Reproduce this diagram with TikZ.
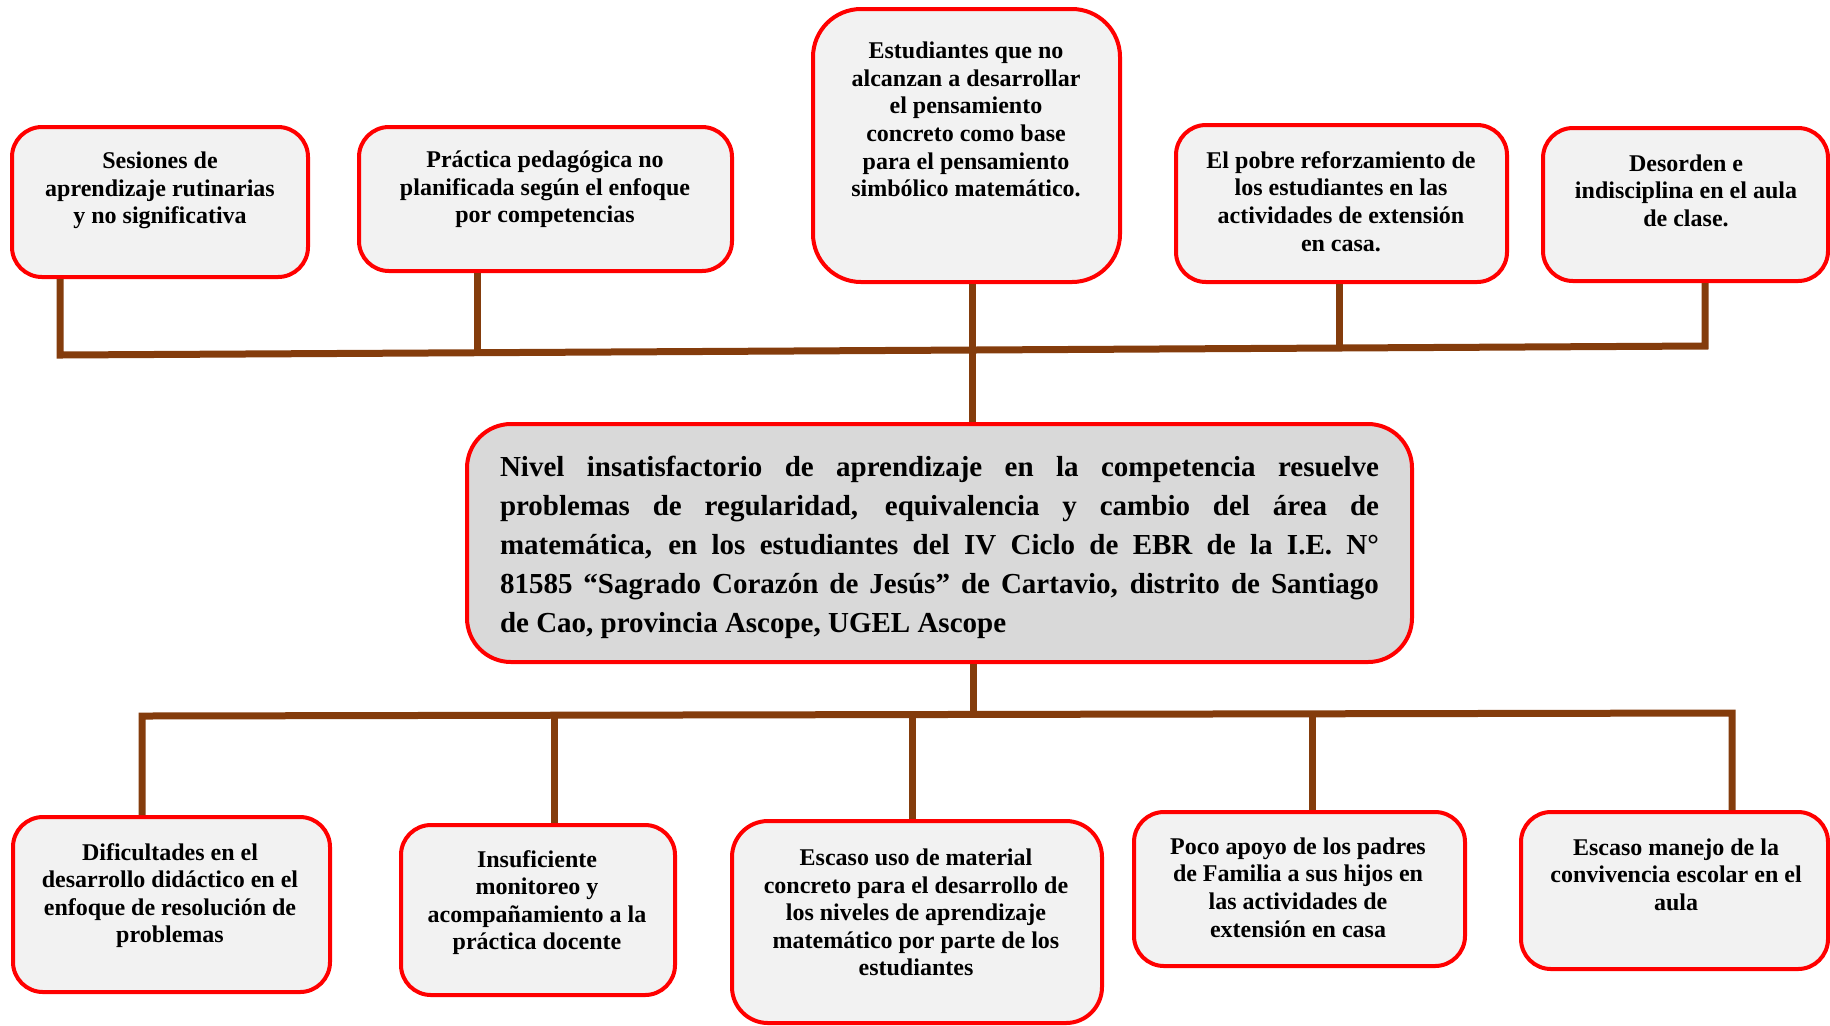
\documentclass[tikz,border=0pt]{standalone}
\usepackage{fontspec}
\setmainfont{Liberation Serif}
\definecolor{busc}{RGB}{132,60,12}
\definecolor{boxfill}{RGB}{242,242,242}
\definecolor{mainfill}{RGB}{217,217,217}
\begin{document}
\begin{tikzpicture}[x=0.5pt,y=-0.5pt,
  box/.style={draw=red, line width=2pt, fill=boxfill, rounded corners=15pt, inner sep=0pt},
  txt/.style={align=center, font=\fontsize{12}{13.8}\selectfont\bfseries, inner sep=0pt},
  bus/.style={draw=busc, line width=3.5pt}]
\useasboundingbox (0,0) rectangle (1830,1025);

% top boxes
\node[box, minimum width=148pt, minimum height=75pt] (b1) at (160,202) {};
\node[box, minimum width=186.5pt, minimum height=72pt] (b2) at (545.5,199) {};
\node[box, rounded corners=24pt, minimum width=153.5pt, minimum height=136.5pt] (b3) at (966.5,145.5) {};
\node[box, minimum width=165.5pt, minimum height=78.5pt] (b4) at (1341.5,203.5) {};
\node[box, minimum width=142.5pt, minimum height=76.5pt] (b5) at (1685.5,204.5) {};

\node[txt] (t1) at (160,190.5) {Sesiones de\\aprendizaje rutinarias\\y no significativa};
\node[txt] (t2) at (545,189.5) {Práctica pedagógica no\\planificada según el enfoque\\por competencias};
\node[txt] (t3) at (966,119.5) {Estudiantes que no\\alcanzan a desarrollar\\el pensamiento\\concreto como base\\para el pensamiento\\simbólico matemático.};
\node[txt] (t4) at (1341,201.5) {El pobre reforzamiento de\\los estudiantes en las\\actividades de extensión\\en casa.};
\node[txt] (t5) at (1686,190.5) {Desorden e\\indisciplina en el aula\\de clase.};

% central box
\node[box, fill=mainfill, rounded corners=22pt, minimum width=472.5pt, minimum height=119pt] (m) at (939.5,543) {};
\node[inner sep=0pt, text width=439.5pt, align=justify, font=\fontsize{14.5}{19.5}\selectfont\bfseries] (tm) at (939.5,547)
{Nivel insatisfactorio de aprendizaje en la competencia resuelve\linebreak
problemas de regularidad, equivalencia y cambio del área de\linebreak
matemática, en los estudiantes del IV Ciclo de EBR de la I.E. N°\linebreak
81585 “Sagrado Corazón de Jesús” de Cartavio, distrito de Santiago\linebreak
de Cao, provincia Ascope, UGEL Ascope};

% bottom boxes
\node[box, minimum width=158.5pt, minimum height=87.5pt] (d1) at (171.5,904.5) {};
\node[box, minimum width=137pt, minimum height=85pt] (d2) at (538,910) {};
\node[box, rounded corners=18pt, minimum width=185pt, minimum height=101pt] (d3) at (917,922) {};
\node[box, minimum width=165.5pt, minimum height=77pt] (d4) at (1299.5,889) {};
\node[box, minimum width=153.5pt, minimum height=78.5pt] (d5) at (1674.5,890.5) {};

\node[txt] (s1) at (170,895.5) {Dificultades en el\\desarrollo didáctico en el\\enfoque de resolución de\\problemas};
\node[txt] (s2) at (537,902.5) {Insuficiente\\monitoreo y\\acompañamiento a la\\práctica docente};
\node[txt] (s3) at (916,912.5) {Escaso uso de material\\concreto para el desarrollo de\\los niveles de aprendizaje\\matemático por parte de los\\estudiantes};
\node[txt] (s4) at (1298,887.5) {Poco apoyo de los padres\\de Familia a sus hijos en\\las actividades de\\extensión en casa};
\node[txt] (s5) at (1676,874.5) {Escaso manejo de la\\convivencia escolar en el\\aula};

% top bus
\coordinate (tl) at (60,355);
\coordinate (tr) at (1705,346);
\coordinate (j2) at (477,352.7);
\coordinate (j3) at (972,350);
\coordinate (j4) at (1339,348);
\draw[bus] (b1.south -| tl) -- (tl) -- (tr) -- (b5.south -| tr);
\draw[bus] (b2.south -| j2) -- (j2);
\draw[bus] (b3.south -| j3) -- (m.north -| j3);
\draw[bus] (b4.south -| j4) -- (j4);

% bottom bus
\coordinate (bl) at (142,716);
\coordinate (br) at (1732,713);
\coordinate (jm) at (973,714.4);
\coordinate (k2) at (554,715.2);
\coordinate (k3) at (912,714.5);
\coordinate (k4) at (1312,713.8);
\draw[bus] (d1.north -| bl) -- (bl) -- (br) -- (d5.north -| br);
\draw[bus] (m.south -| jm) -- (jm);
\draw[bus] (d2.north -| k2) -- (k2);
\draw[bus] (d3.north -| k3) -- (k3);
\draw[bus] (d4.north -| k4) -- (k4);
\end{tikzpicture}
\end{document}
